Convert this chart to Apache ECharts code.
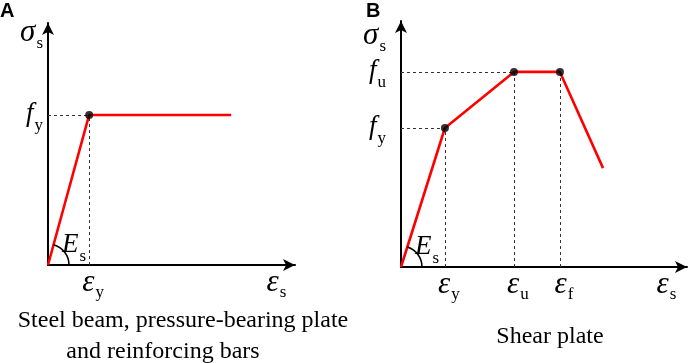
<!DOCTYPE html>
<html>
<head>
<meta charset="utf-8">
<script src="https://cdn.jsdelivr.net/npm/echarts@6/dist/echarts.min.js"></script>
<style>
html,body{margin:0;padding:0;background:#fff;}
#chart{width:692px;height:363px;}
</style>
</head>
<body>
<div id="chart"></div>
<script>
// ---- Panel A: steel beam, pressure-bearing plate and reinforcing bars ----
const aStrain = [0, 2.0, 8.9];
const aStress = [0, 6.2, 6.2];
const aDotIdx = [1];
const aXTickValues = [2.0, 10.9];
const aXTickSubs = ['y', 's'];
const aYTickValues = [6.2, 9.6];
const aYTickLabels = [['f', 'y'], ['σ', 's']];

// ---- Panel B: shear plate ----
const bStrain = [0, 2.15, 5.53, 7.78, 9.89];
const bStress = [0, 5.65, 7.93, 7.93, 4.02];
const bDotIdx = [1, 2, 3];
const bXTickValues = [2.15, 5.53, 7.78, 12.8];
const bXTickSubs = ['y', 'u', 'f', 's'];
const bYTickValues = [5.65, 7.93, 9.4];
const bYTickLabels = [['f', 'y'], ['f', 'u'], ['σ', 's']];

const panelLetters = ['A', 'B'];
const captionA = ['Steel beam, pressure-bearing plate', 'and reinforcing bars'];
const captionB = 'Shear plate';

const SERIF = 'Liberation Serif, Times New Roman, serif';
const richBase = {
  g: {fontFamily: SERIF, fontStyle: 'italic', fontSize: 31, lineHeight: 30, verticalAlign: 'top', color: '#000'},
  gx: {fontFamily: SERIF, fontStyle: 'italic', fontSize: 31, lineHeight: 30, verticalAlign: 'top', color: '#000', padding: [0, 0, 0, 8]},
  f: {fontFamily: SERIF, fontStyle: 'italic', fontSize: 27, lineHeight: 30, verticalAlign: 'top', color: '#000'},
  s: {fontFamily: SERIF, fontSize: 17, lineHeight: 16, verticalAlign: 'top', padding: [17, 0, 0, 1], color: '#000'}
};

function pairs(xs, ys) { return xs.map((x, i) => [x, ys[i]]); }
function pick(xs, ys, idx) { return idx.map(i => [xs[i], ys[i]]); }

function xAxisFor(gi, max, vals, subs) {
  return {
    gridIndex: gi, type: 'value', min: 0, max: max,
    axisLine: {show: true, symbol: ['none', 'arrow'], symbolSize: [9, 12], lineStyle: {color: '#000', width: 2}},
    axisTick: {show: false}, splitLine: {show: false},
    axisLabel: {
      customValues: vals, margin: 2, color: '#000',
      formatter: function (v) {
        const i = vals.indexOf(v);
        return i < 0 ? '' : '{gx|ε}{s|' + subs[i] + '}';
      },
      rich: richBase
    }
  };
}
function yAxisFor(gi, max, vals, labels, margin) {
  return {
    gridIndex: gi, type: 'value', min: 0, max: max,
    axisLine: {show: true, symbol: ['none', 'arrow'], symbolSize: [9, 12], lineStyle: {color: '#000', width: 2}},
    axisTick: {show: false}, splitLine: {show: false},
    axisLabel: {
      customValues: vals, margin: margin, color: '#000',
      formatter: function (v) {
        const i = vals.indexOf(v);
        if (i < 0) return '';
        const l = labels[i];
        return (l[0] === 'f' ? '{f|' : '{g|') + l[0] + '}{s|' + l[1] + '}';
      },
      rich: richBase
    }
  };
}

function dashed(xs, ys, kind) {
  return kind.map(([i, d]) => d === 'h'
    ? [{coord: [0, ys[i]]}, {coord: [xs[i], ys[i]]}]
    : [{coord: [xs[i], 0]}, {coord: [xs[i], ys[i]]}]);
}

function arcSeries(gi, xs, ys) {
  return {
    type: 'custom', xAxisIndex: gi, yAxisIndex: gi, clip: false, silent: true,
    data: [[xs[0], ys[0]]], z: 5,
    renderItem: function (params, api) {
      const o = api.coord([xs[0], ys[0]]);
      const p = api.coord([xs[1], ys[1]]);
      const ang = Math.atan2(p[1] - o[1], p[0] - o[0]);
      return {
        type: 'group',
        children: [
          {type: 'arc', shape: {cx: o[0], cy: o[1], r: 21, startAngle: ang, endAngle: 0, clockwise: true},
           style: {stroke: '#000', lineWidth: 1.6, fill: null}},
          {type: 'text', x: o[0] + 14, y: o[1] - 34,
           style: {text: '{f|E}{s|s}', rich: richBase}}
        ]
      };
    }
  };
}

const lineColor = '#ff0000';
const guide = {type: [3, 3], color: '#333', width: 1};

const option = {
  animation: false,
  backgroundColor: '#fff',
  grid: [
    {left: 48, top: 23, width: 247, height: 242},
    {left: 401, top: 21, width: 286, height: 246}
  ],
  xAxis: [xAxisFor(0, 12, aXTickValues, aXTickSubs), xAxisFor(1, 14, bXTickValues, bXTickSubs)],
  yAxis: [yAxisFor(0, 10, aYTickValues, aYTickLabels, 5), yAxisFor(1, 10, bYTickValues, bYTickLabels, 15)],
  graphic: [
    {type: 'text', left: 0, top: 1, style: {text: panelLetters[0], font: 'bold 20px Liberation Sans, Arial, sans-serif', fill: '#000'}},
    {type: 'text', left: 366, top: 1, style: {text: panelLetters[1], font: 'bold 20px Liberation Sans, Arial, sans-serif', fill: '#000'}},
    {type: 'text', x: 183, y: 321, style: {text: captionA[0], font: '24px Liberation Serif, serif', fill: '#000', align: 'center', verticalAlign: 'middle'}},
    {type: 'text', x: 163, y: 352, style: {text: captionA[1], font: '24px Liberation Serif, serif', fill: '#000', align: 'center', verticalAlign: 'middle'}},
    {type: 'text', x: 550, y: 337, style: {text: captionB, font: '24px Liberation Serif, serif', fill: '#000', align: 'center', verticalAlign: 'middle'}}
  ],
  series: [
    {
      type: 'line', xAxisIndex: 0, yAxisIndex: 0, data: pairs(aStrain, aStress),
      showSymbol: false, lineStyle: {color: lineColor, width: 2.6}, z: 3,
      markLine: {silent: true, symbol: ['none', 'none'], label: {show: false}, lineStyle: guide,
        data: dashed(aStrain, aStress, [[1, 'h'], [1, 'v']])}
    },
    {type: 'scatter', xAxisIndex: 0, yAxisIndex: 0, data: pick(aStrain, aStress, aDotIdx),
      symbolSize: 8, itemStyle: {color: '#000'}, z: 6},
    arcSeries(0, aStrain, aStress),
    {
      type: 'line', xAxisIndex: 1, yAxisIndex: 1, data: pairs(bStrain, bStress),
      showSymbol: false, lineStyle: {color: lineColor, width: 2.6}, z: 3,
      markLine: {silent: true, symbol: ['none', 'none'], label: {show: false}, lineStyle: guide,
        data: dashed(bStrain, bStress, [[1, 'h'], [1, 'v'], [2, 'h'], [2, 'v'], [3, 'v']])}
    },
    {type: 'scatter', xAxisIndex: 1, yAxisIndex: 1, data: pick(bStrain, bStress, bDotIdx),
      symbolSize: 8, itemStyle: {color: '#000'}, z: 6},
    arcSeries(1, bStrain, bStress)
  ]
};

const chart = echarts.init(document.getElementById('chart'), null, {renderer: 'canvas'});
chart.setOption(option);
</script>
</body>
</html>
